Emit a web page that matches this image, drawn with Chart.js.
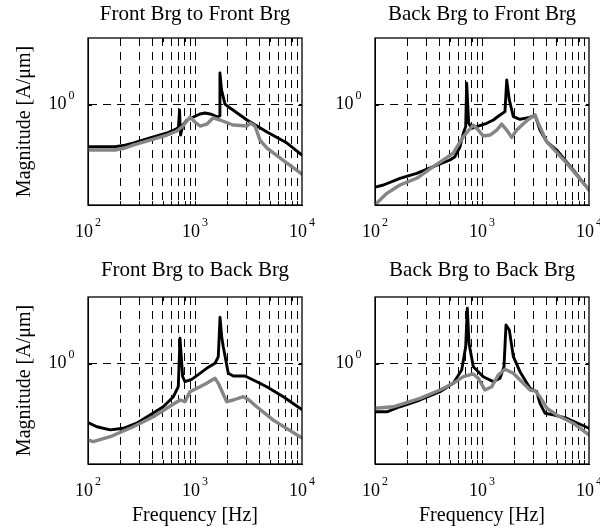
<!DOCTYPE html>
<html>
<head>
<meta charset="utf-8">
<title>Bearing transfer magnitudes</title>
<script src="https://cdn.jsdelivr.net/npm/chart.js@4.4.1/dist/chart.umd.min.js"></script>
<style>
  html, body { margin: 0; padding: 0; background: #fff; }
  #wrap { position: relative; width: 600px; height: 531px; overflow: hidden; background: #fff; }
  #wrap canvas { position: absolute; }
</style>
</head>
<body>
<div id="wrap">
  <canvas id="p0" width="330" height="262" style="left:0px;top:0px"></canvas>
  <canvas id="p1" width="310" height="262" style="left:290px;top:0px"></canvas>
  <canvas id="p2" width="330" height="276" style="left:0px;top:255px"></canvas>
  <canvas id="p3" width="310" height="276" style="left:290px;top:255px"></canvas>
</div>
<script>
// ---- axis ranges and ticks ----
const freqRange = [100, 10000];
const magRange = [Math.pow(10, -0.6), Math.pow(10, 0.4)];
const xMajorTicks = [100, 1000, 10000];
const xGridTicks = [200, 300, 400, 500, 600, 700, 800, 900, 1000,
                    2000, 3000, 4000, 5000, 6000, 7000, 8000, 9000];
const yMajorTicks = [1];

const panelTitles = ['Front Brg to Front Brg', 'Back Brg to Front Brg',
                     'Front Brg to Back Brg', 'Back Brg to Back Brg'];
const xAxisLabel = 'Frequency [Hz]';
const yAxisLabel = 'Magnitude [A/\u03BCm]';

// ---- measured responses: [frequency Hz, magnitude A/um] ----
const frontFrontBlack = [[100,0.561],[179,0.561],[222,0.574],[263,0.590],[380,0.633],[548,0.678],[664,0.716],[700,0.73],[717,0.931],[732,0.659],[773,0.757],[842,0.811],[1113,0.881],[1240,0.893],[1380,0.881],[1473,0.869],[1640,0.845],[1690,0.86],[1710,1.55],[1770,1.23],[1907,1.01],[2123,0.957],[2265,0.931],[3062,0.811],[4707,0.687],[7244,0.590],[10000,0.500]];
const frontFrontGray = [[100,0.536],[179,0.536],[222,0.551],[263,0.574],[380,0.615],[548,0.659],[679,0.697],[773,0.746],[898,0.845],[1000,0.789],[1113,0.746],[1295,0.767],[1472,0.834],[1713,0.811],[2265,0.757],[3062,0.746],[3266,0.778],[3637,0.746],[4049,0.615],[4707,0.551],[6640,0.467],[10000,0.385]];

const backFrontBlack = [[100,0.321],[120,0.331],[171,0.363],[245,0.389],[351,0.426],[502,0.467],[559,0.489],[623,0.561],[669,0.675],[704,0.740],[719,1.345],[751,0.775],[801,0.723],[892,0.740],[1107,0.775],[1276,0.811],[1473,0.869],[1640,0.910],[1702,1.408],[1800,1.069],[1963,0.849],[2265,0.819],[2810,0.841],[3128,0.869],[3483,0.706],[4027,0.601],[4989,0.536],[7129,0.407],[10000,0.309]];
const backFrontGray = [[100,0.252],[129,0.295],[171,0.331],[245,0.363],[351,0.426],[435,0.467],[539,0.513],[669,0.644],[829,0.757],[923,0.706],[1028,0.650],[1188,0.659],[1372,0.706],[1528,0.767],[1702,0.706],[1895,0.638],[2110,0.706],[2617,0.803],[3128,0.869],[3358,0.775],[4027,0.601],[6190,0.447],[10000,0.309]];

const frontBackBlack = [[100,0.444],[121,0.420],[161,0.402],[214,0.411],[285,0.441],[380,0.494],[505,0.553],[627,0.635],[698,0.729],[724,1.422],[767,0.837],[806,0.782],[931,0.807],[1113,0.877],[1286,0.940],[1538,1.007],[1651,1.104],[1713,1.898],[1777,1.45],[1837,1.265],[2047,0.877],[2280,0.845],[2932,0.845],[3508,0.800],[4677,0.729],[6690,0.635],[9580,0.542],[10000,0.532]];
const frontBackGray = [[100,0.350],[112,0.342],[161,0.366],[265,0.420],[408,0.482],[544,0.542],[724,0.607],[806,0.593],[898,0.681],[1113,0.729],[1286,0.764],[1538,0.819],[1651,0.764],[1978,0.593],[2280,0.607],[2828,0.635],[3148,0.612],[3773,0.553],[5393,0.460],[9580,0.366],[10000,0.360]];

const backBackBlack = [[100,0.516],[129,0.516],[171,0.553],[263,0.607],[405,0.681],[539,0.764],[646,0.918],[704,1.265],[729,2.149],[756,1.327],[829,0.961],[1028,0.837],[1276,0.782],[1473,0.819],[1605,0.961],[1676,1.706],[1800,1.594],[1963,1.104],[2265,0.897],[2810,0.713],[3245,0.681],[3483,0.580],[3879,0.506],[4638,0.494],[6190,0.472],[10000,0.411]];
const backBackGray = [[100,0.542],[148,0.553],[263,0.621],[405,0.697],[539,0.764],[669,0.837],[829,0.869],[923,0.819],[1067,0.697],[1233,0.729],[1420,0.857],[1640,0.927],[1963,0.877],[2432,0.764],[2810,0.697],[3128,0.690],[3483,0.635],[4027,0.542],[4989,0.494],[7129,0.441],[10000,0.375]];

const panelSeries = [
  [frontFrontBlack, frontFrontGray],
  [backFrontBlack, backFrontGray],
  [frontBackBlack, frontBackGray],
  [backBackBlack, backBackGray]
];

// ---- panel geometry (plot box inside each canvas) ----
const FONT = "'Liberation Serif', 'Times New Roman', serif";
const panelLayout = [
  { id: 'p0', box: { l: 88, t: 38, r: 302, b: 205 }, titlePad: { top: 1.5, bottom: 11.3 },  yLabel: true,  xLabel: false },
  { id: 'p1', box: { l: 85, t: 38, r: 299, b: 205 }, titlePad: { top: 1.5, bottom: 11.3 },  yLabel: false, xLabel: false },
  { id: 'p2', box: { l: 88, t: 42, r: 302, b: 209 }, titlePad: { top: 3, bottom: 13.8 },    yLabel: true,  xLabel: true },
  { id: 'p3', box: { l: 85, t: 42, r: 299, b: 209 }, titlePad: { top: 3, bottom: 13.8 },    yLabel: false, xLabel: true }
];

// Draws the closed plot frame, inward tick marks and 10^n tick labels.
const matlabAxes = {
  id: 'matlabAxes',
  afterDraw(chart) {
    const { ctx, chartArea: a, scales } = chart;
    ctx.save();
    ctx.strokeStyle = '#000';
    ctx.lineWidth = 1;
    ctx.setLineDash([]);
    ctx.beginPath();
    for (const v of xGridTicks) {
      const x = Math.round(scales.x.getPixelForValue(v)) + 0.5;
      ctx.moveTo(x, a.bottom); ctx.lineTo(x, a.bottom - 4);
      ctx.moveTo(x, a.top); ctx.lineTo(x, a.top + 4);
    }
    for (const v of yMajorTicks) {
      const y = Math.round(scales.y.getPixelForValue(v)) + 0.5;
      ctx.moveTo(a.left, y); ctx.lineTo(a.left + 4, y);
      ctx.moveTo(a.right, y); ctx.lineTo(a.right - 4, y);
    }
    ctx.stroke();
    ctx.lineWidth = 1.3;
    ctx.strokeRect(a.left, a.top, a.right - a.left, a.bottom - a.top);

    const baseFont = '18px ' + FONT;
    const expFont = '12px ' + FONT;
    ctx.fillStyle = '#000';
    ctx.textBaseline = 'alphabetic';
    ctx.textAlign = 'left';
    const label = (value) => {
      const base = '10';
      const exp = String(Math.round(Math.log10(value)));
      ctx.font = baseFont;
      const wb = ctx.measureText(base).width;
      ctx.font = expFont;
      const we = ctx.measureText(exp).width;
      return { base, exp, wb, we, w: wb + 2 + we };
    };
    const drawLabel = (lb, x, y) => {
      ctx.font = baseFont;
      ctx.fillText(lb.base, x, y);
      ctx.font = expFont;
      ctx.fillText(lb.exp, x + lb.wb + 2, y - 10.8);
    };
    for (const v of xMajorTicks) {
      const lb = label(v);
      const cx = scales.x.getPixelForValue(v);
      drawLabel(lb, cx - lb.w / 2, a.bottom + 31.5);
    }
    for (const v of yMajorTicks) {
      const lb = label(v);
      const cy = scales.y.getPixelForValue(v);
      drawLabel(lb, a.left - 13.5 - lb.w, cy + 4.5);
    }
    ctx.restore();
  }
};

const toPoints = (arr) => arr.map(([x, y]) => ({ x, y }));

panelLayout.forEach((p, i) => {
  const canvas = document.getElementById(p.id);
  const W = canvas.width, H = canvas.height;
  const [black, gray] = panelSeries[i];
  new Chart(canvas, {
    type: 'line',
    data: {
      datasets: [
        { label: 'gray', data: toPoints(gray), borderColor: '#858585', borderWidth: 3.4,
          pointRadius: 0, tension: 0, fill: false, borderJoinStyle: 'round', borderCapStyle: 'round' },
        { label: 'black', data: toPoints(black), borderColor: '#000', borderWidth: 2.9,
          pointRadius: 0, tension: 0, fill: false, borderJoinStyle: 'round', borderCapStyle: 'round' }
      ]
    },
    options: {
      responsive: false,
      animation: false,
      events: [],
      layout: { padding: { left: 0, top: 0, right: W - p.box.r, bottom: 0 } },
      plugins: {
        legend: { display: false },
        tooltip: { enabled: false },
        title: {
          display: true,
          text: panelTitles[i],
          fullSize: false,
          color: '#000',
          font: { family: FONT, size: 21, weight: 'normal', lineHeight: 1.2 },
          padding: p.titlePad
        }
      },
      scales: {
        x: {
          type: 'logarithmic',
          bounds: 'data',
          min: freqRange[0],
          max: freqRange[1],
          afterBuildTicks: (s) => { s.ticks = xGridTicks.map(v => ({ value: v })); },
          afterFit: (s) => { s.height = H - p.box.b; },
          ticks: { display: false },
          grid: { color: '#000', lineWidth: 1, drawTicks: false },
          border: { display: true, color: '#000', width: 1, dash: [8, 6] },
          title: {
            display: p.xLabel,
            text: xAxisLabel,
            color: '#000',
            font: { family: FONT, size: 20, weight: 'normal', lineHeight: 1.2 },
            padding: { top: 0, bottom: 3.75 }
          }
        },
        y: {
          type: 'logarithmic',
          bounds: 'data',
          min: magRange[0],
          max: magRange[1],
          afterBuildTicks: (s) => { s.ticks = yMajorTicks.map(v => ({ value: v })); },
          afterFit: (s) => { s.width = p.box.l; },
          ticks: { display: false },
          grid: { color: '#000', lineWidth: 1, drawTicks: false },
          border: { display: true, color: '#000', width: 1, dash: [8, 6] },
          title: {
            display: p.yLabel,
            text: yAxisLabel,
            color: '#000',
            font: { family: FONT, size: 20, weight: 'normal', lineHeight: 1.2 },
            padding: { top: 12.75, bottom: 0 }
          }
        }
      }
    },
    plugins: [matlabAxes]
  });
});
</script>
</body>
</html>
